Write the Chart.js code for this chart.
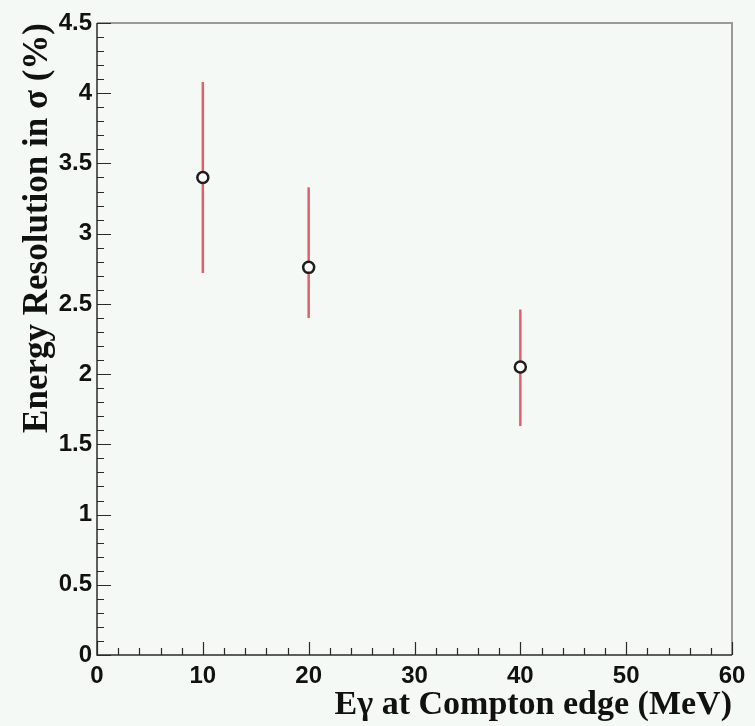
<!DOCTYPE html>
<html>
<head>
<meta charset="utf-8">
<script src="https://cdn.jsdelivr.net/npm/chart.js@4"></script>
<style>
  html, body { margin: 0; padding: 0; background: #f4f9f5; }
  #wrap { width: 755px; height: 726px; }
</style>
</head>
<body>
<div id="wrap"><canvas id="myChart" width="755" height="726"></canvas></div>
<script>
// data
const energies = [10, 20, 40];            // MeV
const resolution = [3.40, 2.76, 2.05];    // %
const errLow = [2.72, 2.40, 1.63];
const errHigh = [4.08, 3.33, 2.46];

const xTitle = 'Eγ at Compton edge (MeV)';
const yTitle = 'Energy Resolution in σ (%)';

const bgColor = '#f4f9f5';
const axisColor = '#2a2a2a';

// background fill
const bgPlugin = {
    id: 'bg',
    beforeDraw(chart) {
        const c = chart.ctx;
        c.save();
        c.fillStyle = bgColor;
        c.fillRect(0, 0, chart.width, chart.height);
        c.restore();
    }
};

// vertical error bars, drawn under the markers
const errorBars = {
    id: 'errorBars',
    beforeDatasetsDraw(chart) {
        const c = chart.ctx, xs = chart.scales.x, ys = chart.scales.y;
        c.save();
        c.strokeStyle = '#e0606a';
        c.lineWidth = 2.5;
        energies.forEach((e, i) => {
            const px = xs.getPixelForValue(e);
            c.beginPath();
            c.moveTo(px, ys.getPixelForValue(errLow[i]));
            c.lineTo(px, ys.getPixelForValue(errHigh[i]));
            c.stroke();
        });
        c.restore();
    }
};

// ROOT-style frame with inward tick marks
const framePlugin = {
    id: 'frame',
    beforeDatasetsDraw(chart) {
        const c = chart.ctx, a = chart.chartArea, xs = chart.scales.x, ys = chart.scales.y;
        c.save();
        // top + right frame (grey)
        c.strokeStyle = '#9a9a9a';
        c.lineWidth = 2;
        c.beginPath();
        c.moveTo(a.left, a.top);
        c.lineTo(a.right, a.top);
        c.lineTo(a.right, a.bottom);
        c.stroke();
        // axes
        c.strokeStyle = axisColor;
        c.lineWidth = 1.5;
        c.beginPath();
        c.moveTo(a.left, a.top);
        c.lineTo(a.left, a.bottom);
        c.lineTo(a.right, a.bottom);
        c.stroke();
        // x ticks: major 10, minor 2
        c.lineWidth = 1.2;
        c.beginPath();
        for (let v = xs.min; v <= xs.max + 1e-9; v += 2) {
            const px = Math.round(xs.getPixelForValue(v)) + 0.5;
            const len = (Math.round(v) % 10 === 0) ? 13 : 7;
            c.moveTo(px, a.bottom);
            c.lineTo(px, a.bottom - len);
        }
        // y ticks: major 0.5, minor 0.1
        for (let k = 0; k <= 45; k++) {
            const py = Math.round(ys.getPixelForValue(k / 10)) + 0.5;
            const len = (k % 5 === 0) ? 14 : 7;
            c.moveTo(a.left, py);
            c.lineTo(a.left + len, py);
        }
        c.stroke();
        c.restore();
    }
};

const tickFont = { family: 'Liberation Sans', weight: 'bold', size: 24 };

const ctx = document.getElementById('myChart').getContext('2d');
const myChart = new Chart(ctx, {
    type: 'scatter',
    data: {
        datasets: [{
            label: 'resolution',
            data: energies.map((e, i) => ({ x: e, y: resolution[i] })),
            pointStyle: 'circle',
            pointRadius: 5.5,
            pointBorderWidth: 2.5,
            pointBorderColor: '#1e1e1e',
            pointBackgroundColor: '#ffffff'
        }]
    },
    options: {
        responsive: false,
        animation: false,
        events: [],
        layout: { padding: { left: 0, right: 23, top: 23, bottom: 0 } },
        plugins: { legend: { display: false }, tooltip: { enabled: false } },
        scales: {
            x: {
                type: 'linear', min: 0, max: 60,
                afterFit: s => { s.height = 71; },
                grid: { display: false, drawTicks: false },
                border: { display: false },
                ticks: { stepSize: 10, autoSkip: false, maxRotation: 0, padding: 7, color: '#111',
                         font: tickFont, callback: v => String(v) },
                title: { display: true, text: xTitle, align: 'end', color: '#111',
                         padding: { top: 0, bottom: 4 },
                         font: { family: 'Liberation Serif', weight: 'bold', size: 34, lineHeight: 1 } }
            },
            y: {
                type: 'linear', min: 0, max: 4.5,
                afterFit: s => { s.width = 97; },
                grid: { display: false, drawTicks: false },
                border: { display: false },
                ticks: { stepSize: 0.5, autoSkip: false, padding: 5, color: '#111',
                         font: tickFont, callback: v => String(Math.round(v * 10) / 10) },
                title: { display: true, text: yTitle, align: 'end', color: '#111',
                         padding: { top: 20, bottom: 0 },
                         font: { family: 'Liberation Serif', weight: 'bold', size: 35, lineHeight: 1 } }
            }
        }
    },
    plugins: [bgPlugin, framePlugin, errorBars]
});
</script>
</body>
</html>
